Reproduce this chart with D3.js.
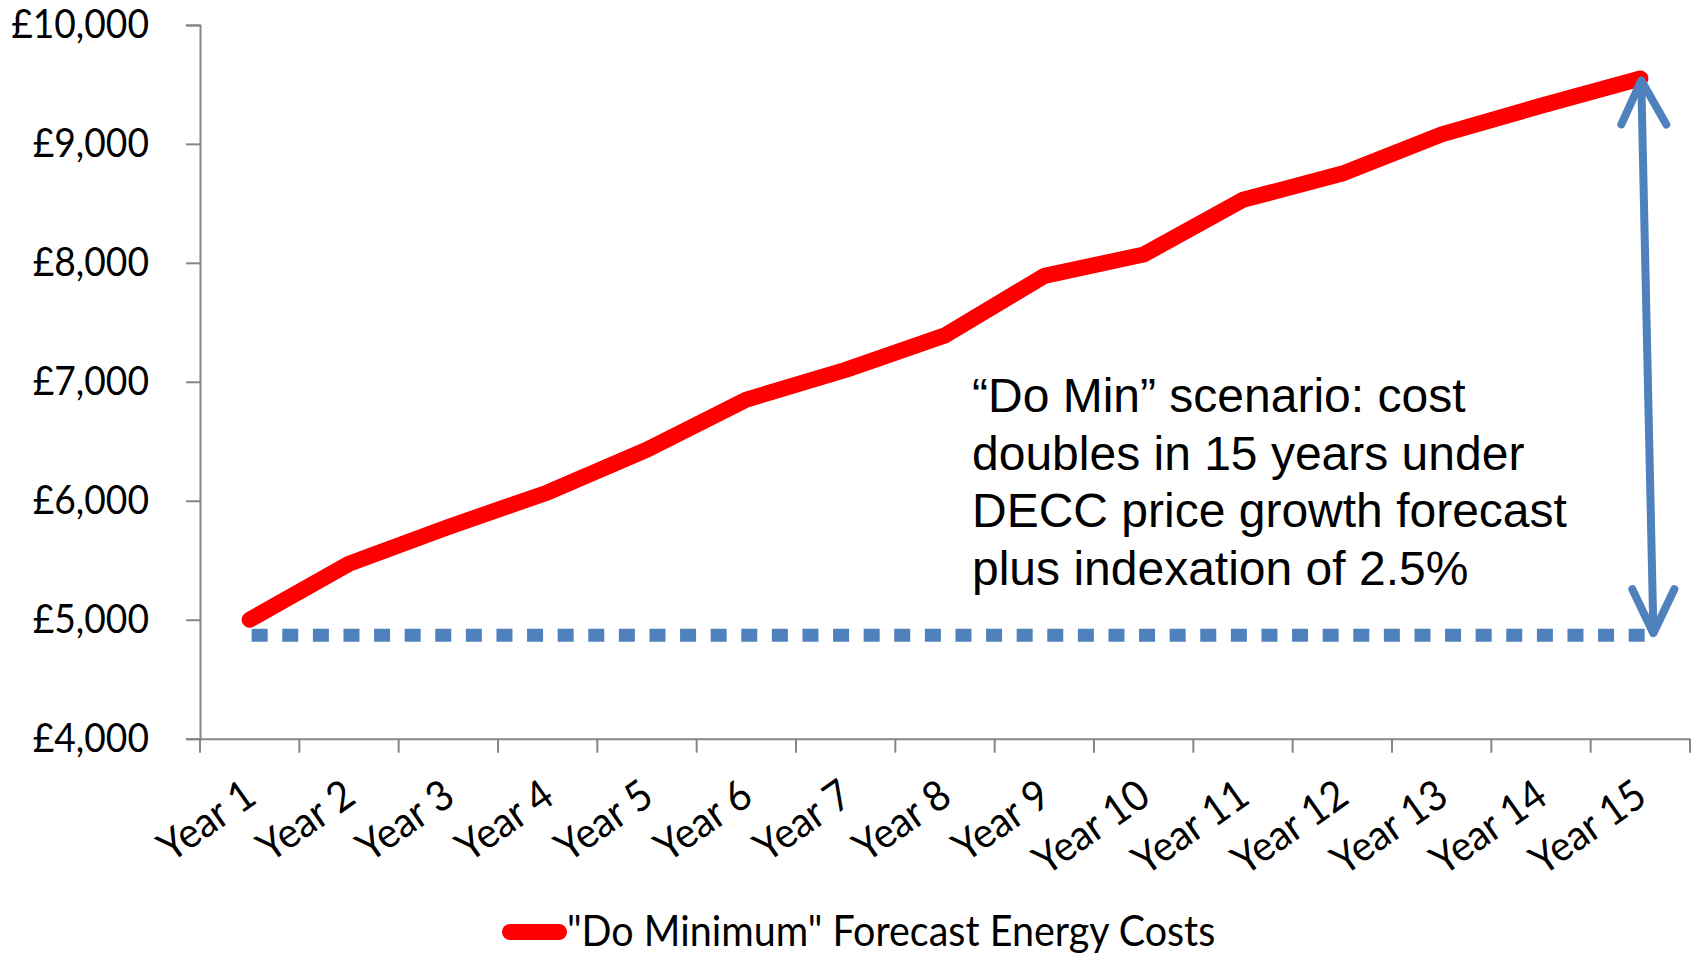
<!DOCTYPE html>
<html><head><meta charset="utf-8">
<script src="https://cdnjs.cloudflare.com/ajax/libs/d3/7.8.5/d3.min.js"></script>
<style>
html,body{margin:0;padding:0;background:#fff;}
svg{display:block;}
</style></head>
<body>
<script>
const categories = ["Year 1","Year 2","Year 3","Year 4","Year 5","Year 6","Year 7","Year 8","Year 9","Year 10","Year 11","Year 12","Year 13","Year 14","Year 15"];
const costs = [5000, 5470, 5780, 6070, 6430, 6850, 7100, 7390, 7890, 8070, 8530, 8750, 9080, 9320, 9550];
const startLevel = 4870;
const yTicks = [4000, 5000, 6000, 7000, 8000, 9000, 10000];
const seriesName = "\"Do Minimum\" Forecast Energy Costs";
const noteLines = ["\u201CDo Min\u201D scenario: cost", "doubles in 15 years under", "DECC price growth forecast", "plus indexation of 2.5%"];

const W = 1696, H = 955;
const svg = d3.select("body").append("svg").attr("width", W).attr("height", H);

const x = d3.scaleBand().domain(categories).range([200, 1690]).padding(0);
const xc = c => x(c) + x.bandwidth() / 2;
const y = d3.scaleLinear().domain([4000, 10000]).range([738.7, 24.9]);

const axisColor = "#868686";
const tickFont = "Lato, Carlito, 'Liberation Sans', sans-serif";

// Y axis
const yAxis = svg.append("g").attr("transform", "translate(200,0)")
  .call(d3.axisLeft(y).tickValues(yTicks).tickSize(14).tickPadding(37)
        .tickFormat(d => "\u00A3" + d3.format(",")(d)));
yAxis.select(".domain").attr("stroke", axisColor).attr("stroke-width", 2);
yAxis.selectAll(".tick line").attr("stroke", axisColor).attr("stroke-width", 2);
yAxis.selectAll(".tick text").attr("font-family", tickFont).attr("font-size", 40).attr("fill", "#000")
  .attr("x", null).attr("transform", "translate(-51,0) scale(0.93,1)");

// X axis
const y0 = y(4000);
const xAxis = svg.append("g").attr("transform", `translate(0,${y0})`)
  .call(d3.axisBottom(x).tickSize(0).tickFormat(""));
xAxis.select(".domain").attr("stroke", axisColor).attr("stroke-width", 2);
const bounds = categories.map(c => x(c)).concat([x.range()[1]]);
xAxis.selectAll("line.bt").data(bounds).enter().append("line").attr("class","bt")
  .attr("x1", d => d).attr("x2", d => d).attr("y1", 0).attr("y2", 14)
  .attr("stroke", axisColor).attr("stroke-width", 2);
xAxis.selectAll("text.xl").data(categories).enter().append("text").attr("class","xl")
  .attr("transform", d => `translate(${xc(d) + 9},${63}) rotate(-35) scale(0.94,1)`)
  .attr("text-anchor", "end")
  .attr("font-family", tickFont).attr("font-size", 42).attr("fill", "#000")
  .text(d => d);

// dotted baseline
const blue = "#4F81BD";
svg.append("line")
  .attr("x1", xc(categories[0]) + 2).attr("x2", xc(categories[categories.length-1]) + 12)
  .attr("y1", y(startLevel)).attr("y2", y(startLevel))
  .attr("stroke", blue).attr("stroke-width", 13).attr("stroke-dasharray", "16 14.6");

// red series
const line = d3.line().x((d, i) => xc(categories[i])).y(d => y(d));
svg.append("path").datum(costs).attr("d", line)
  .attr("fill", "none").attr("stroke", "#FF0000").attr("stroke-width", 16)
  .attr("stroke-linecap", "round").attr("stroke-linejoin", "round");

// double-headed arrow
const last = categories[categories.length - 1];
const ax1 = xc(last) + 1, ay1 = y(costs[costs.length - 1]) + 2;
const ax2 = xc(last) + 13, ay2 = y(startLevel) - 2;
const ag = svg.append("g").attr("stroke", blue).attr("fill", "none")
  .attr("stroke-width", 8).attr("stroke-linecap", "round").attr("stroke-linejoin", "round");
ag.append("line").attr("x1", ax1).attr("y1", ay1 + 4).attr("x2", ax2).attr("y2", ay2 - 4);
ag.append("path").attr("d", `M${ax1 - 20},${ay1 + 44} L${ax1},${ay1} L${ax1 + 25},${ay1 + 44}`);
ag.append("path").attr("d", `M${ax2 - 21},${ay2 - 44} L${ax2},${ay2} L${ax2 + 21},${ay2 - 44}`);

// annotation
svg.append("g").selectAll("text").data(noteLines).enter().append("text")
  .attr("x", 972).attr("y", (d, i) => 412 + i * 57.7)
  .attr("font-family", "'Liberation Sans', Arial, sans-serif").attr("font-size", 48).attr("fill", "#000")
  .text(d => d);

// legend
const lg = svg.append("g");
lg.append("line").attr("x1", 510).attr("x2", 559).attr("y1", 932).attr("y2", 932)
  .attr("stroke", "#FF0000").attr("stroke-width", 16).attr("stroke-linecap", "round");
lg.append("text").attr("transform", "translate(567,946) scale(0.94,1)")
  .attr("font-family", tickFont).attr("font-size", 42).attr("fill", "#000").text(seriesName);
</script>
</body></html>
